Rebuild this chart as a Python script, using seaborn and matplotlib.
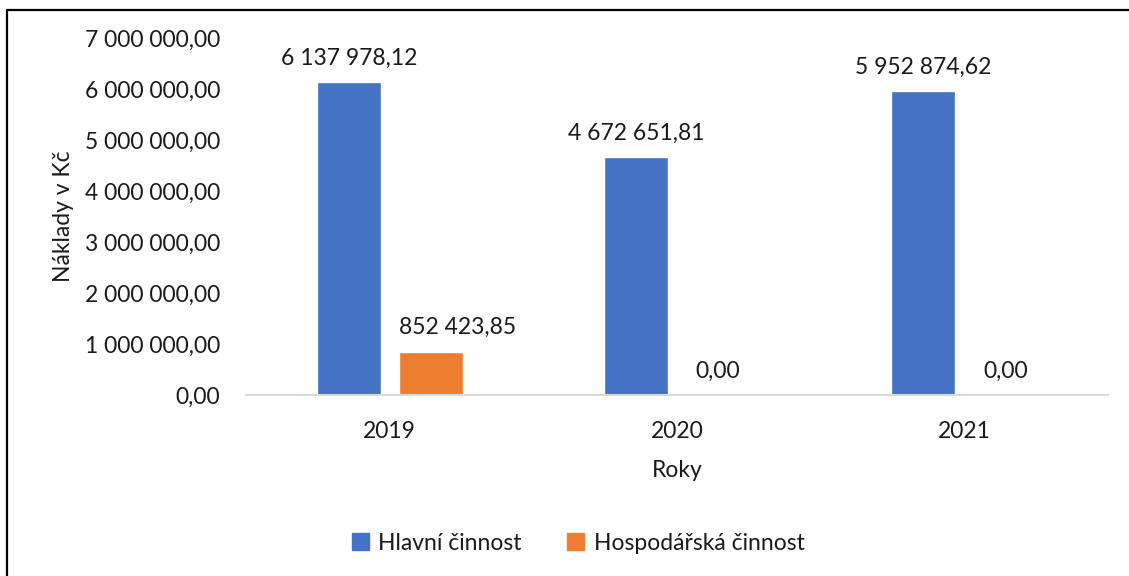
import matplotlib
matplotlib.use("Agg")
import matplotlib.pyplot as plt
import seaborn as sns
import pandas as pd
from matplotlib.lines import Line2D
from matplotlib.ticker import FuncFormatter

years = ["2019", "2020", "2021"]
hlavni = [6137978.12, 4672651.81, 5952874.62]
hospodarska = [852423.85, 0.0, 0.0]
series = ["Hlavní činnost", "Hospodářská činnost"]
colors = ["#4472C4", "#ED7D31"]


def cz(v):
    return f"{v:,.2f}".replace(",", " ").replace(".", ",")


df = pd.DataFrame({
    "Roky": years * 2,
    "Náklady": hlavni + hospodarska,
    "Činnost": [series[0]] * 3 + [series[1]] * 3,
})

sns.set_theme(style="white")
plt.rcParams["font.family"] = ["Lato", "DejaVu Sans"]
txt = "#1a1a1a"
fs = 16.5

fig = plt.figure(figsize=(11.29, 5.76), dpi=100)
ax = fig.add_axes([246 / 1129, 1 - 395 / 576, 862 / 1129, 357 / 576])

sns.barplot(data=df, x="Roky", y="Náklady", hue="Činnost", palette=colors,
            width=0.57, gap=0.22, ax=ax, legend=False, saturation=1)

for i, cont in enumerate(ax.containers):
    anns = ax.bar_label(cont, labels=[cz(b.get_height()) for b in cont],
                        padding=9.5, fontsize=fs, color=txt)
    # Excel pushed the small orange label to start at the bar's left edge
    if i == 1:
        for b, a in zip(cont, anns):
            if b.get_height() > 0:
                a.xy = (b.get_x(), b.get_height())
                a.set_ha("left")

ax.set_ylim(0, 7000000)
ax.set_yticks(range(0, 7000001, 1000000))
ax.yaxis.set_major_formatter(FuncFormatter(lambda v, p: cz(v)))
ax.tick_params(axis="both", labelsize=fs, colors=txt, length=0)
ax.tick_params(axis="y", pad=18.5)
ax.tick_params(axis="x", pad=19)
for s in ["top", "right", "left"]:
    ax.spines[s].set_visible(False)
ax.spines["bottom"].set_color("#D9D9D9")
ax.spines["bottom"].set_linewidth(1.5)
ax.set_xlabel("Roky", fontsize=fs, color=txt, labelpad=13)
ax.set_ylabel("Náklady v Kč", fontsize=fs, color=txt, labelpad=8)

handles = [plt.Rectangle((0, 0), 1, 1, color=c) for c in colors]
fig.legend(handles, series, loc="center", bbox_to_anchor=(578 / 1129, 1 - 543 / 576),
           ncol=2, frameon=False, fontsize=fs, handlelength=0.75, handleheight=0.75,
           columnspacing=2.0, handletextpad=0.4, labelcolor=txt)

# outer frame (left and top edge visible)
fig.add_artist(Line2D([7 / 1129, 7 / 1129], [0, 1 - 10 / 576], transform=fig.transFigure,
                      color="black", lw=1.6))
fig.add_artist(Line2D([7 / 1129, 1], [1 - 10 / 576, 1 - 10 / 576], transform=fig.transFigure,
                      color="black", lw=1.6))

fig.savefig("out.png", dpi=100)
